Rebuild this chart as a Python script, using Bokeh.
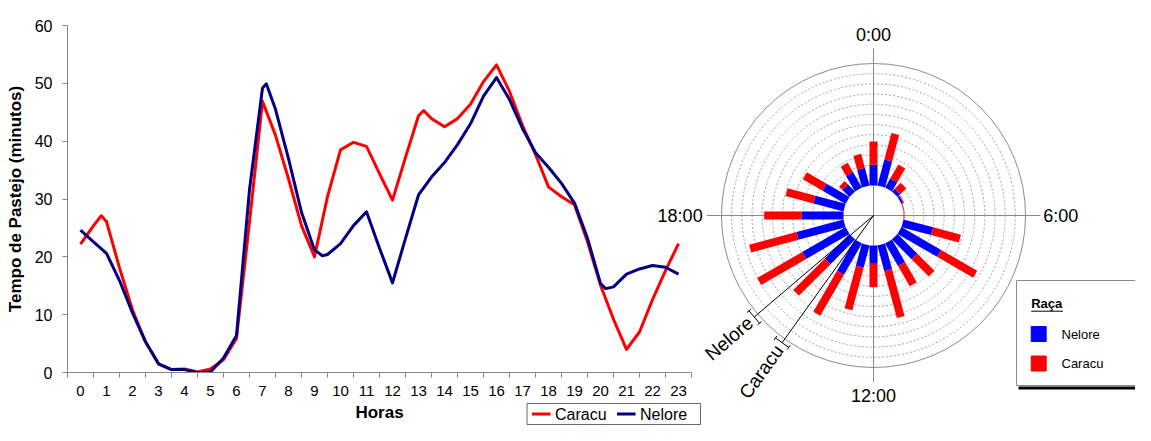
import math
from bokeh.plotting import figure
from bokeh.layouts import row
from bokeh.models import Range1d, FixedTicker
from bokeh.core.properties import value
from bokeh.embed import file_html
from bokeh.resources import INLINE

# ---------------- data ----------------
# Line chart: grazing time (minutes) read along the hour axis
caracu_h = [0, 0.5, 0.8, 1, 1.5, 2, 2.5, 3, 3.5, 4, 4.5, 5, 5.5, 6, 6.5, 7, 7.5, 8, 8.5, 9, 9.5,
            10, 10.5, 11, 11.5, 12, 12.5, 13, 13.2, 13.5, 14, 14.5, 15, 15.5, 16, 16.5, 17, 17.5,
            18, 18.5, 19, 19.5, 20, 20.5, 21, 21.5, 22, 22.5, 23]
caracu_min = [22.2, 25.4, 27.1, 26.1, 18.1, 10.8, 5.3, 1.5, 0.5, 0.6, 0.1, 0.6, 2.2, 5.9, 26.0,
              46.9, 41.0, 33.5, 25.4, 20.0, 30.4, 38.5, 39.8, 39.1, 34.4, 29.8, 37.2, 44.4, 45.3,
              43.9, 42.5, 43.9, 46.4, 50.3, 53.2, 48.6, 42.7, 37.7, 32.1, 30.4, 29.0, 22.6, 15.1,
              9.2, 4.0, 7.0, 12.6, 17.6, 22.3]
nelore_h = [0, 0.5, 1, 1.5, 2, 2.5, 3, 3.5, 4, 4.5, 5, 5.5, 6, 6.5, 7, 7.15, 7.5, 8, 8.5, 9, 9.3,
            9.5, 10, 10.5, 11, 11.5, 12, 12.5, 13, 13.5, 14, 14.5, 15, 15.5, 16, 16.5, 17, 17.5,
            18, 18.5, 19, 19.5, 20, 20.2, 20.5, 21, 21.5, 22, 22.5, 23]
nelore_min = [24.6, 22.6, 20.6, 15.9, 10.3, 5.3, 1.5, 0.5, 0.5, 0.0, 0.1, 2.5, 6.4, 31.6, 49.2,
              49.9, 45.5, 37.0, 27.7, 21.2, 20.2, 20.4, 22.3, 25.4, 27.8, 21.5, 15.5, 23.2, 30.7,
              33.8, 36.3, 39.4, 43.0, 47.8, 51.0, 47.2, 42.2, 38.0, 35.5, 32.7, 29.3, 23.2, 15.4,
              14.5, 14.8, 17.0, 17.9, 18.5, 18.2, 17.0]
hour_ticks = [0, 1, 2, 3, 4, 5, 6, 7, 8, 9, 10, 11, 12, 13, 14, 15, 16, 17, 18, 19, 20, 21, 22, 23]
y_ticks = [0, 10, 20, 30, 40, 50, 60]
line_series = ["Caracu", "Nelore"]
line_colors = ["#FF0000", "#000080"]

# Rose (polar stacked bars)
rose_hours = [0, 1, 2, 3, 4, 5, 6, 7, 8, 9, 10, 11, 12, 13, 14, 15, 16, 17, 18, 19, 20, 21, 22, 23]
rose_nelore = [20.3, 26.5, 10.2, 3.9, 2.0, 0.5, 0.0, 30.2, 45.0, 27.3, 25.6, 26.1, 18.0, 22.6,
               35.4, 34.2, 49.2, 47.8, 41.0, 30.5, 26.0, 9.8, 17.7, 18.0]
rose_caracu = [23.0, 26.9, 16.0, 8.3, 1.0, 0.5, 1.0, 28.2, 41.0, 24.1, 23.0, 47.8, 23.0, 43.3,
               46.7, 44.0, 51.1, 48.3, 37.0, 28.5, 22.5, 4.7, 10.3, 14.2]
clock_labels = ["0:00", "6:00", "12:00", "18:00"]
series_names = ["Nelore", "Caracu"]
rose_colors = ["#0000FF", "#FF0000"]

FONT = value("Liberation Sans")
AXIS_GRAY = "#868686"

# ---------------- left: line chart ----------------
W1, H = 700, 425
p1 = figure(width=W1, height=H, x_range=Range1d(-0.5, 23.5), y_range=Range1d(0, 60),
            output_backend="svg", toolbar_location=None,
            min_border_left=67, min_border_right=9, min_border_top=25, min_border_bottom=53)
p1.frame_align = False
p1.outline_line_color = None
p1.xgrid.visible = False
p1.ygrid.visible = False

xa = p1.xaxis[0]
xa.ticker = FixedTicker(ticks=hour_ticks, minor_ticks=[h - 0.5 for h in hour_ticks] + [23.5])
xa.major_tick_line_color = None
xa.major_tick_out = 5
xa.minor_tick_out = 5
xa.minor_tick_in = 0
xa.minor_tick_line_color = AXIS_GRAY
xa.axis_line_color = AXIS_GRAY
xa.major_label_text_font = "Liberation Sans"
xa.major_label_text_font_size = "15px"
xa.major_label_text_color = "#000000"
xa.major_label_standoff = 8
xa.axis_label = "Horas"
xa.axis_label_text_font = "Liberation Sans"
xa.axis_label_text_font_style = "bold"
xa.axis_label_text_font_size = "17px"
xa.axis_label_text_color = "#000000"
xa.axis_label_standoff = 4

ya = p1.yaxis[0]
ya.ticker = FixedTicker(ticks=y_ticks)
ya.major_tick_out = 5
ya.major_tick_in = 0
ya.major_tick_line_color = AXIS_GRAY
ya.minor_tick_line_color = None
ya.axis_line_color = AXIS_GRAY
ya.major_label_text_font = "Liberation Sans"
ya.major_label_text_font_size = "16px"
ya.major_label_text_color = "#000000"
ya.major_label_standoff = 10
ya.axis_label = "Tempo de Pastejo (minutos)"
ya.axis_label_text_font = "Liberation Sans"
ya.axis_label_text_font_style = "bold"
ya.axis_label_text_font_size = "17px"
ya.axis_label_text_color = "#000000"
ya.axis_label_standoff = 7

p1.line(caracu_h, caracu_min, line_color=line_colors[0], line_width=3, line_join="round")
p1.line(nelore_h, nelore_min, line_color=line_colors[1], line_width=3, line_join="round")

# ---------------- right: rose chart (transparent overlay) ----------------
PX = 1.017            # screen px per minute on the rose
P2_LEFT = 520         # page x where the overlay starts
W2 = 1135 - P2_LEFT
CX, CY = 873 - P2_LEFT, 215   # rose centre inside the overlay (px)
HOLE = 29.5
RMAX = 120

p2 = figure(width=W2, height=H,
            x_range=Range1d(-CX / PX, (W2 - CX) / PX),
            y_range=Range1d(-(H - CY) / PX, CY / PX),
            x_axis_type=None, y_axis_type=None, min_border=0,
            output_backend="svg", toolbar_location=None)
p2.frame_align = False
p2.outline_line_color = None
p2.background_fill_color = None
p2.border_fill_color = None
p2.xgrid.visible = False
p2.ygrid.visible = False
p2.margin = (0, 0, 0, -(W1 - P2_LEFT))


def sx(ref_x):
    return -CX / PX + (ref_x - P2_LEFT) / PX


def sy(ref_y):
    return CY / PX - ref_y / PX


ring_r = [HOLE + v for v in range(10, RMAX, 10)]
p2.circle(x=[0] * len(ring_r), y=[0] * len(ring_r), radius=ring_r, fill_color=None,
          line_color="#a0a0a0", line_dash="2 2", line_width=1)
p2.circle(x=[0], y=[0], radius=[HOLE + RMAX], fill_color=None, line_color="#8c8c8c",
          line_width=1)
p2.circle(x=[0], y=[0], radius=[HOLE], fill_color="white", line_color=None)

CR = 164
p2.segment(x0=[-CR, 0], y0=[0, -CR], x1=[CR, 0], y1=[0, CR], line_color="#8c8c8c",
           line_width=1)

th = [math.radians(15 * h) for h in rose_hours]
r_n = [HOLE + n for n in rose_nelore]
r_c = [HOLE + n + c for n, c in zip(rose_nelore, rose_caracu)]
p2.segment(x0=[HOLE * math.sin(t) for t in th], y0=[HOLE * math.cos(t) for t in th],
           x1=[r * math.sin(t) for r, t in zip(r_n, th)], y1=[r * math.cos(t) for r, t in zip(r_n, th)],
           line_color=rose_colors[0], line_width=8, line_cap="butt")
p2.segment(x0=[r * math.sin(t) for r, t in zip(r_n, th)], y0=[r * math.cos(t) for r, t in zip(r_n, th)],
           x1=[r * math.sin(t) for r, t in zip(r_c, th)], y1=[r * math.cos(t) for r, t in zip(r_c, th)],
           line_color=rose_colors[1], line_width=8, line_cap="butt")

# series radial axes with scale markers
axis_deg = [229.6, 215.7]
R_AX, HALF, SER, R_TXT = 154, 8, 2.5, 159
for name, deg in zip(series_names, axis_deg):
    t = math.radians(deg)
    ux, uy = math.sin(t), math.cos(t)
    px_, py_ = math.cos(t), -math.sin(t)
    ex, ey = R_AX * ux, R_AX * uy
    a = (ex + HALF * px_, ey + HALF * py_)
    b = (ex - HALF * px_, ey - HALF * py_)
    p2.segment(x0=[0, a[0], a[0] - SER * ux, b[0] - SER * ux],
               y0=[0, a[1], a[1] - SER * uy, b[1] - SER * uy],
               x1=[ex, b[0], a[0] + SER * ux, b[0] + SER * ux],
               y1=[ey, b[1], a[1] + SER * uy, b[1] + SER * uy],
               line_color="#000000", line_width=1)
    p2.text(x=[R_TXT * ux], y=[R_TXT * uy], text=[name], angle=math.atan2(-uy, -ux),
            text_align="right", text_baseline="middle", text_font=FONT,
            text_font_size="19px", text_color="#000000")

RL = 168
clock_pos = [(0, RL, "center", "bottom"), (RL - 1, 0, "left", "middle"),
             (0, -RL, "center", "top"), (-RL, 0, "right", "middle")]
for lab, (x, y, al, bl) in zip(clock_labels, clock_pos):
    p2.text(x=[x], y=[y], text=[lab], text_align=al, text_baseline=bl, text_font=FONT,
            text_font_size="18px", text_color="#000000")

# rose legend (Raça)
p2.quad(left=[sx(1016)], right=[sx(1160)], top=[sy(280)], bottom=[sy(385)],
        fill_color="white", line_color="#8a8a8a", line_width=1)
p2.segment(x0=[sx(1018)], y0=[sy(387.5)], x1=[sx(1160)], y1=[sy(387.5)],
           line_color="#000000", line_width=3)
p2.text(x=[sx(1030.7)], y=[sy(303)], text=["Raça"], text_align="left", text_baseline="middle",
        text_font=FONT, text_font_size="13px", text_font_style="bold", text_color="#000000")
p2.segment(x0=[sx(1030.7)], y0=[sy(310.7)], x1=[sx(1062.5)], y1=[sy(310.7)],
           line_color="#000000", line_width=1)
for name, col, yy in zip(series_names, rose_colors, [333.5, 363]):
    p2.rect(x=[sx(1038.2)], y=[sy(yy)], width=15, height=15, width_units="screen",
            height_units="screen", fill_color=col, line_color=col)
    p2.text(x=[sx(1061)], y=[sy(yy)], text=[name], text_align="left", text_baseline="middle",
            text_font=FONT, text_font_size="13px", text_color="#000000")

# line-chart legend (drawn on the overlay, below the axis)
LG_Y = 413.5
p2.quad(left=[sx(526.5)], right=[sx(700)], top=[sy(403)], bottom=[sy(424)],
        fill_color="white", line_color="#6a6a6a", line_width=1)
for name, col, x0 in zip(line_series, line_colors, [531.5, 616.5]):
    p2.segment(x0=[sx(x0)], y0=[sy(LG_Y)], x1=[sx(x0 + 18.5)], y1=[sy(LG_Y)],
               line_color=col, line_width=3)
    p2.text(x=[sx(x0 + 23)], y=[sy(LG_Y)], text=[name], text_align="left",
            text_baseline="middle", text_font=FONT, text_font_size="16px",
            text_color="#000000")

layout = row(p1, p2)
open("out.html", "w").write(file_html(layout, INLINE))
